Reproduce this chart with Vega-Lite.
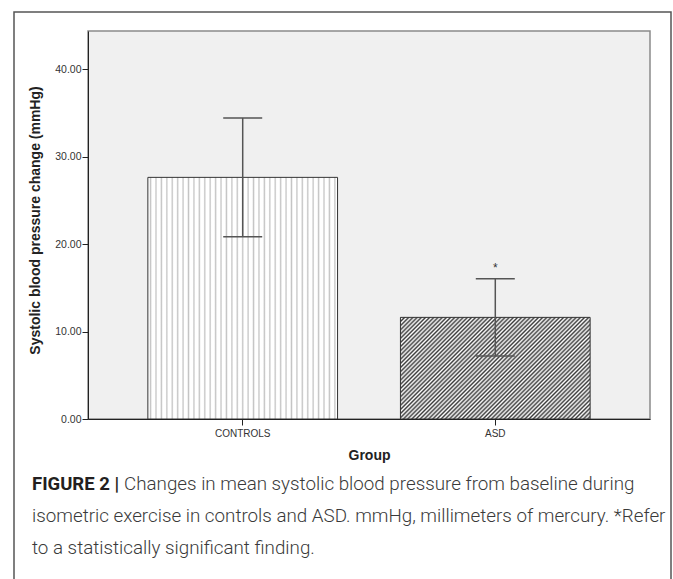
{
  "$schema": "https://vega.github.io/schema/vega-lite/v6.json",
  "width": 657,
  "height": 600,
  "autosize": {"type": "none"},
  "padding": {"left": 14, "top": 12, "right": 2, "bottom": 0},
  "background": "white",
  "view": {"stroke": "#555555", "strokeWidth": 1.5, "fill": "white"},
  "datasets": {
    "groups": [
      {"group": "CONTROLS", "mean": 27.65, "lower": 20.85, "upper": 34.45, "sig": ""},
      {"group": "ASD", "mean": 11.63, "lower": 7.2, "upper": 16.05, "sig": "*"}
    ],
    "caption": [
      {"line": 1, "lead": "FIGURE 2 |", "text": "Changes in mean systolic blood pressure from baseline during"},
      {"line": 2, "lead": "", "text": "isometric exercise in controls and ASD. mmHg, millimeters of mercury. *Refer"},
      {"line": 3, "lead": "", "text": "to a statistically significant finding."}
    ]
  },
  "layer": [
    {
      "data": {"values": [{}]},
      "mark": {"type": "rect", "fill": "#f0f0f0", "stroke": "#8a8a8a", "strokeWidth": 1.5},
      "encoding": {
        "x": {"datum": 0, "type": "quantitative", "scale": {"domain": [0, 1], "range": [74, 636]}, "axis": null},
        "x2": {"datum": 1},
        "y": {"datum": 0, "type": "quantitative", "scale": {"domain": [0, 44.4], "range": [407, 19], "nice": false}, "axis": null},
        "y2": {"datum": 44.4}
      }
    },
    {
      "data": {"name": "groups"},
      "encoding": {
        "x": {
          "field": "group", "type": "nominal", "sort": ["CONTROLS", "ASD"],
          "scale": {"domain": ["CONTROLS", "ASD"], "range": [74, 636], "paddingInner": 0.249, "paddingOuter": 0.237},
          "axis": {
            "orient": "bottom", "offset": -193, "zindex": 1,
            "domainColor": "#222222", "domainWidth": 1, "tickColor": "#222222", "tickSize": 6, "tickWidth": 1,
            "labelFont": "Liberation Sans", "labelFontSize": 10, "labelColor": "#333333", "labelPadding": 3, "labelAngle": 0,
            "title": "Group", "titleFont": "Liberation Sans", "titleFontSize": 14, "titleFontWeight": "bold", "titleColor": "#222222",
            "titleY": 40, "titleBaseline": "alphabetic"
          }
        }
      },
      "layer": [
        {
          "mark": {"type": "bar", "stroke": "#333333", "strokeWidth": 1},
          "encoding": {
            "y": {
              "field": "mean", "type": "quantitative",
              "scale": {"domain": [0, 44.4], "range": [407, 19], "nice": false, "zero": true},
              "axis": {
                "orient": "left", "offset": -74, "zindex": 1, "values": [0, 10, 20, 30, 40], "format": ".2f", "grid": false,
                "domainColor": "#222222", "domainWidth": 1, "tickColor": "#222222", "tickSize": 6, "tickWidth": 1,
                "labelFont": "Liberation Sans", "labelFontSize": 10.5, "labelColor": "#333333", "labelPadding": 1,
                "title": "Systolic blood pressure change (mmHg)", "titleFont": "Liberation Sans", "titleFontSize": 14,
                "titleFontWeight": "bold", "titleColor": "#222222", "titleAngle": -90, "titleBaseline": "middle",
                "titleAlign": "center", "titleX": -53, "titleY": 208
              }
            },
            "fill": {
              "condition": {
                "test": "datum.group === 'ASD'",
                "value": {
                  "gradient": "linear", "x1": 0, "y1": 0, "x2": 1.2, "y2": 0.643,
                  "stops": [
                    {"offset": 0, "color": "#3c3c3c"}, {"offset": 0.00714, "color": "#ffffff"}, {"offset": 0.01429, "color": "#3c3c3c"}, {"offset": 0.02143, "color": "#ffffff"},
                    {"offset": 0.02857, "color": "#3c3c3c"}, {"offset": 0.03571, "color": "#ffffff"}, {"offset": 0.04286, "color": "#3c3c3c"}, {"offset": 0.05, "color": "#ffffff"},
                    {"offset": 0.05714, "color": "#3c3c3c"}, {"offset": 0.06429, "color": "#ffffff"}, {"offset": 0.07143, "color": "#3c3c3c"}, {"offset": 0.07857, "color": "#ffffff"},
                    {"offset": 0.08571, "color": "#3c3c3c"}, {"offset": 0.09286, "color": "#ffffff"}, {"offset": 0.1, "color": "#3c3c3c"}, {"offset": 0.10714, "color": "#ffffff"},
                    {"offset": 0.11429, "color": "#3c3c3c"}, {"offset": 0.12143, "color": "#ffffff"}, {"offset": 0.12857, "color": "#3c3c3c"}, {"offset": 0.13571, "color": "#ffffff"},
                    {"offset": 0.14286, "color": "#3c3c3c"}, {"offset": 0.15, "color": "#ffffff"}, {"offset": 0.15714, "color": "#3c3c3c"}, {"offset": 0.16429, "color": "#ffffff"},
                    {"offset": 0.17143, "color": "#3c3c3c"}, {"offset": 0.17857, "color": "#ffffff"}, {"offset": 0.18571, "color": "#3c3c3c"}, {"offset": 0.19286, "color": "#ffffff"},
                    {"offset": 0.2, "color": "#3c3c3c"}, {"offset": 0.20714, "color": "#ffffff"}, {"offset": 0.21429, "color": "#3c3c3c"}, {"offset": 0.22143, "color": "#ffffff"},
                    {"offset": 0.22857, "color": "#3c3c3c"}, {"offset": 0.23571, "color": "#ffffff"}, {"offset": 0.24286, "color": "#3c3c3c"}, {"offset": 0.25, "color": "#ffffff"},
                    {"offset": 0.25714, "color": "#3c3c3c"}, {"offset": 0.26429, "color": "#ffffff"}, {"offset": 0.27143, "color": "#3c3c3c"}, {"offset": 0.27857, "color": "#ffffff"},
                    {"offset": 0.28571, "color": "#3c3c3c"}, {"offset": 0.29286, "color": "#ffffff"}, {"offset": 0.3, "color": "#3c3c3c"}, {"offset": 0.30714, "color": "#ffffff"},
                    {"offset": 0.31429, "color": "#3c3c3c"}, {"offset": 0.32143, "color": "#ffffff"}, {"offset": 0.32857, "color": "#3c3c3c"}, {"offset": 0.33571, "color": "#ffffff"},
                    {"offset": 0.34286, "color": "#3c3c3c"}, {"offset": 0.35, "color": "#ffffff"}, {"offset": 0.35714, "color": "#3c3c3c"}, {"offset": 0.36429, "color": "#ffffff"},
                    {"offset": 0.37143, "color": "#3c3c3c"}, {"offset": 0.37857, "color": "#ffffff"}, {"offset": 0.38571, "color": "#3c3c3c"}, {"offset": 0.39286, "color": "#ffffff"},
                    {"offset": 0.4, "color": "#3c3c3c"}, {"offset": 0.40714, "color": "#ffffff"}, {"offset": 0.41429, "color": "#3c3c3c"}, {"offset": 0.42143, "color": "#ffffff"},
                    {"offset": 0.42857, "color": "#3c3c3c"}, {"offset": 0.43571, "color": "#ffffff"}, {"offset": 0.44286, "color": "#3c3c3c"}, {"offset": 0.45, "color": "#ffffff"},
                    {"offset": 0.45714, "color": "#3c3c3c"}, {"offset": 0.46429, "color": "#ffffff"}, {"offset": 0.47143, "color": "#3c3c3c"}, {"offset": 0.47857, "color": "#ffffff"},
                    {"offset": 0.48571, "color": "#3c3c3c"}, {"offset": 0.49286, "color": "#ffffff"}, {"offset": 0.5, "color": "#3c3c3c"}, {"offset": 0.50714, "color": "#ffffff"},
                    {"offset": 0.51429, "color": "#3c3c3c"}, {"offset": 0.52143, "color": "#ffffff"}, {"offset": 0.52857, "color": "#3c3c3c"}, {"offset": 0.53571, "color": "#ffffff"},
                    {"offset": 0.54286, "color": "#3c3c3c"}, {"offset": 0.55, "color": "#ffffff"}, {"offset": 0.55714, "color": "#3c3c3c"}, {"offset": 0.56429, "color": "#ffffff"},
                    {"offset": 0.57143, "color": "#3c3c3c"}, {"offset": 0.57857, "color": "#ffffff"}, {"offset": 0.58571, "color": "#3c3c3c"}, {"offset": 0.59286, "color": "#ffffff"},
                    {"offset": 0.6, "color": "#3c3c3c"}, {"offset": 0.60714, "color": "#ffffff"}, {"offset": 0.61429, "color": "#3c3c3c"}, {"offset": 0.62143, "color": "#ffffff"},
                    {"offset": 0.62857, "color": "#3c3c3c"}, {"offset": 0.63571, "color": "#ffffff"}, {"offset": 0.64286, "color": "#3c3c3c"}, {"offset": 0.65, "color": "#ffffff"},
                    {"offset": 0.65714, "color": "#3c3c3c"}, {"offset": 0.66429, "color": "#ffffff"}, {"offset": 0.67143, "color": "#3c3c3c"}, {"offset": 0.67857, "color": "#ffffff"},
                    {"offset": 0.68571, "color": "#3c3c3c"}, {"offset": 0.69286, "color": "#ffffff"}, {"offset": 0.7, "color": "#3c3c3c"}, {"offset": 0.70714, "color": "#ffffff"},
                    {"offset": 0.71429, "color": "#3c3c3c"}, {"offset": 0.72143, "color": "#ffffff"}, {"offset": 0.72857, "color": "#3c3c3c"}, {"offset": 0.73571, "color": "#ffffff"},
                    {"offset": 0.74286, "color": "#3c3c3c"}, {"offset": 0.75, "color": "#ffffff"}, {"offset": 0.75714, "color": "#3c3c3c"}, {"offset": 0.76429, "color": "#ffffff"},
                    {"offset": 0.77143, "color": "#3c3c3c"}, {"offset": 0.77857, "color": "#ffffff"}, {"offset": 0.78571, "color": "#3c3c3c"}, {"offset": 0.79286, "color": "#ffffff"},
                    {"offset": 0.8, "color": "#3c3c3c"}, {"offset": 0.80714, "color": "#ffffff"}, {"offset": 0.81429, "color": "#3c3c3c"}, {"offset": 0.82143, "color": "#ffffff"},
                    {"offset": 0.82857, "color": "#3c3c3c"}, {"offset": 0.83571, "color": "#ffffff"}, {"offset": 0.84286, "color": "#3c3c3c"}, {"offset": 0.85, "color": "#ffffff"},
                    {"offset": 0.85714, "color": "#3c3c3c"}, {"offset": 0.86429, "color": "#ffffff"}, {"offset": 0.87143, "color": "#3c3c3c"}, {"offset": 0.87857, "color": "#ffffff"},
                    {"offset": 0.88571, "color": "#3c3c3c"}, {"offset": 0.89286, "color": "#ffffff"}, {"offset": 0.9, "color": "#3c3c3c"}, {"offset": 0.90714, "color": "#ffffff"},
                    {"offset": 0.91429, "color": "#3c3c3c"}, {"offset": 0.92143, "color": "#ffffff"}, {"offset": 0.92857, "color": "#3c3c3c"}, {"offset": 0.93571, "color": "#ffffff"},
                    {"offset": 0.94286, "color": "#3c3c3c"}, {"offset": 0.95, "color": "#ffffff"}, {"offset": 0.95714, "color": "#3c3c3c"}, {"offset": 0.96429, "color": "#ffffff"},
                    {"offset": 0.97143, "color": "#3c3c3c"}, {"offset": 0.97857, "color": "#ffffff"}, {"offset": 0.98571, "color": "#3c3c3c"}, {"offset": 0.99286, "color": "#ffffff"},
                    {"offset": 1, "color": "#3c3c3c"}
                  ]
                }
              },
              "value": {
                "gradient": "linear", "x1": 0, "y1": 0, "x2": 1, "y2": 0,
                "stops": [
                  {"offset": 0, "color": "#ffffff"},
                  {"offset": 0.00714, "color": "#ffffff"}, {"offset": 0.01429, "color": "#c4c4c4"}, {"offset": 0.02143, "color": "#ffffff"},
                  {"offset": 0.03571, "color": "#ffffff"}, {"offset": 0.04286, "color": "#c4c4c4"}, {"offset": 0.05, "color": "#ffffff"},
                  {"offset": 0.06429, "color": "#ffffff"}, {"offset": 0.07143, "color": "#c4c4c4"}, {"offset": 0.07857, "color": "#ffffff"},
                  {"offset": 0.09286, "color": "#ffffff"}, {"offset": 0.1, "color": "#c4c4c4"}, {"offset": 0.10714, "color": "#ffffff"},
                  {"offset": 0.12143, "color": "#ffffff"}, {"offset": 0.12857, "color": "#c4c4c4"}, {"offset": 0.13571, "color": "#ffffff"},
                  {"offset": 0.15, "color": "#ffffff"}, {"offset": 0.15714, "color": "#c4c4c4"}, {"offset": 0.16429, "color": "#ffffff"},
                  {"offset": 0.17857, "color": "#ffffff"}, {"offset": 0.18571, "color": "#c4c4c4"}, {"offset": 0.19286, "color": "#ffffff"},
                  {"offset": 0.20714, "color": "#ffffff"}, {"offset": 0.21429, "color": "#c4c4c4"}, {"offset": 0.22143, "color": "#ffffff"},
                  {"offset": 0.23571, "color": "#ffffff"}, {"offset": 0.24286, "color": "#c4c4c4"}, {"offset": 0.25, "color": "#ffffff"},
                  {"offset": 0.26429, "color": "#ffffff"}, {"offset": 0.27143, "color": "#c4c4c4"}, {"offset": 0.27857, "color": "#ffffff"},
                  {"offset": 0.29286, "color": "#ffffff"}, {"offset": 0.3, "color": "#c4c4c4"}, {"offset": 0.30714, "color": "#ffffff"},
                  {"offset": 0.32143, "color": "#ffffff"}, {"offset": 0.32857, "color": "#c4c4c4"}, {"offset": 0.33571, "color": "#ffffff"},
                  {"offset": 0.35, "color": "#ffffff"}, {"offset": 0.35714, "color": "#c4c4c4"}, {"offset": 0.36429, "color": "#ffffff"},
                  {"offset": 0.37857, "color": "#ffffff"}, {"offset": 0.38571, "color": "#c4c4c4"}, {"offset": 0.39286, "color": "#ffffff"},
                  {"offset": 0.40714, "color": "#ffffff"}, {"offset": 0.41429, "color": "#c4c4c4"}, {"offset": 0.42143, "color": "#ffffff"},
                  {"offset": 0.43571, "color": "#ffffff"}, {"offset": 0.44286, "color": "#c4c4c4"}, {"offset": 0.45, "color": "#ffffff"},
                  {"offset": 0.46429, "color": "#ffffff"}, {"offset": 0.47143, "color": "#c4c4c4"}, {"offset": 0.47857, "color": "#ffffff"},
                  {"offset": 0.49286, "color": "#ffffff"}, {"offset": 0.5, "color": "#c4c4c4"}, {"offset": 0.50714, "color": "#ffffff"},
                  {"offset": 0.52143, "color": "#ffffff"}, {"offset": 0.52857, "color": "#c4c4c4"}, {"offset": 0.53571, "color": "#ffffff"},
                  {"offset": 0.55, "color": "#ffffff"}, {"offset": 0.55714, "color": "#c4c4c4"}, {"offset": 0.56429, "color": "#ffffff"},
                  {"offset": 0.57857, "color": "#ffffff"}, {"offset": 0.58571, "color": "#c4c4c4"}, {"offset": 0.59286, "color": "#ffffff"},
                  {"offset": 0.60714, "color": "#ffffff"}, {"offset": 0.61429, "color": "#c4c4c4"}, {"offset": 0.62143, "color": "#ffffff"},
                  {"offset": 0.63571, "color": "#ffffff"}, {"offset": 0.64286, "color": "#c4c4c4"}, {"offset": 0.65, "color": "#ffffff"},
                  {"offset": 0.66429, "color": "#ffffff"}, {"offset": 0.67143, "color": "#c4c4c4"}, {"offset": 0.67857, "color": "#ffffff"},
                  {"offset": 0.69286, "color": "#ffffff"}, {"offset": 0.7, "color": "#c4c4c4"}, {"offset": 0.70714, "color": "#ffffff"},
                  {"offset": 0.72143, "color": "#ffffff"}, {"offset": 0.72857, "color": "#c4c4c4"}, {"offset": 0.73571, "color": "#ffffff"},
                  {"offset": 0.75, "color": "#ffffff"}, {"offset": 0.75714, "color": "#c4c4c4"}, {"offset": 0.76429, "color": "#ffffff"},
                  {"offset": 0.77857, "color": "#ffffff"}, {"offset": 0.78571, "color": "#c4c4c4"}, {"offset": 0.79286, "color": "#ffffff"},
                  {"offset": 0.80714, "color": "#ffffff"}, {"offset": 0.81429, "color": "#c4c4c4"}, {"offset": 0.82143, "color": "#ffffff"},
                  {"offset": 0.83571, "color": "#ffffff"}, {"offset": 0.84286, "color": "#c4c4c4"}, {"offset": 0.85, "color": "#ffffff"},
                  {"offset": 0.86429, "color": "#ffffff"}, {"offset": 0.87143, "color": "#c4c4c4"}, {"offset": 0.87857, "color": "#ffffff"},
                  {"offset": 0.89286, "color": "#ffffff"}, {"offset": 0.9, "color": "#c4c4c4"}, {"offset": 0.90714, "color": "#ffffff"},
                  {"offset": 0.92143, "color": "#ffffff"}, {"offset": 0.92857, "color": "#c4c4c4"}, {"offset": 0.93571, "color": "#ffffff"},
                  {"offset": 0.95, "color": "#ffffff"}, {"offset": 0.95714, "color": "#c4c4c4"}, {"offset": 0.96429, "color": "#ffffff"},
                  {"offset": 0.97857, "color": "#ffffff"}, {"offset": 0.98571, "color": "#c4c4c4"}, {"offset": 0.99286, "color": "#ffffff"},
                  {"offset": 1, "color": "#ffffff"}
                ]
              }
            }
          }
        },
        {
          "mark": {"type": "rule", "color": "#555555", "strokeWidth": 1.5},
          "encoding": {"y": {"field": "lower", "type": "quantitative"}, "y2": {"field": "upper"}}
        },
        {
          "mark": {"type": "tick", "color": "#555555", "thickness": 1.5, "size": 39, "opacity": 1},
          "encoding": {"y": {"field": "upper", "type": "quantitative"}}
        },
        {
          "mark": {"type": "tick", "color": "#555555", "thickness": 1.5, "size": 39, "opacity": 1},
          "encoding": {"y": {"field": "lower", "type": "quantitative"}}
        },
        {
          "mark": {"type": "text", "baseline": "bottom", "dy": -4, "font": "Liberation Sans", "fontSize": 12, "color": "#333333"},
          "encoding": {"y": {"field": "upper", "type": "quantitative"}, "text": {"field": "sig"}}
        }
      ]
    },
    {
      "data": {"name": "caption"},
      "encoding": {
        "x": {"datum": 0, "type": "quantitative", "scale": {"domain": [0, 1], "range": [18, 650]}, "axis": null},
        "y": {"field": "line", "type": "quantitative", "scale": {"domain": [1, 3], "range": [478, 542], "nice": false, "zero": false}, "axis": null}
      },
      "layer": [
        {
          "transform": [{"filter": "datum.line === 1"}],
          "mark": {"type": "text", "align": "left", "baseline": "alphabetic", "font": "Roboto", "fontSize": 18.5, "fontWeight": "bold", "color": "#231f20"},
          "encoding": {"text": {"field": "lead"}}
        },
        {
          "transform": [{"filter": "datum.line === 1"}],
          "mark": {"type": "text", "align": "left", "baseline": "alphabetic", "font": "Roboto", "fontSize": 18.8, "fontWeight": 300, "color": "#3a3a3a", "dx": 92},
          "encoding": {"text": {"field": "text"}}
        },
        {
          "transform": [{"filter": "datum.line > 1"}],
          "mark": {"type": "text", "align": "left", "baseline": "alphabetic", "font": "Roboto", "fontSize": 18.8, "fontWeight": 300, "color": "#3a3a3a"},
          "encoding": {"text": {"field": "text"}}
        }
      ]
    }
  ],
  "resolve": {"scale": {"x": "independent", "y": "independent"}}
}
